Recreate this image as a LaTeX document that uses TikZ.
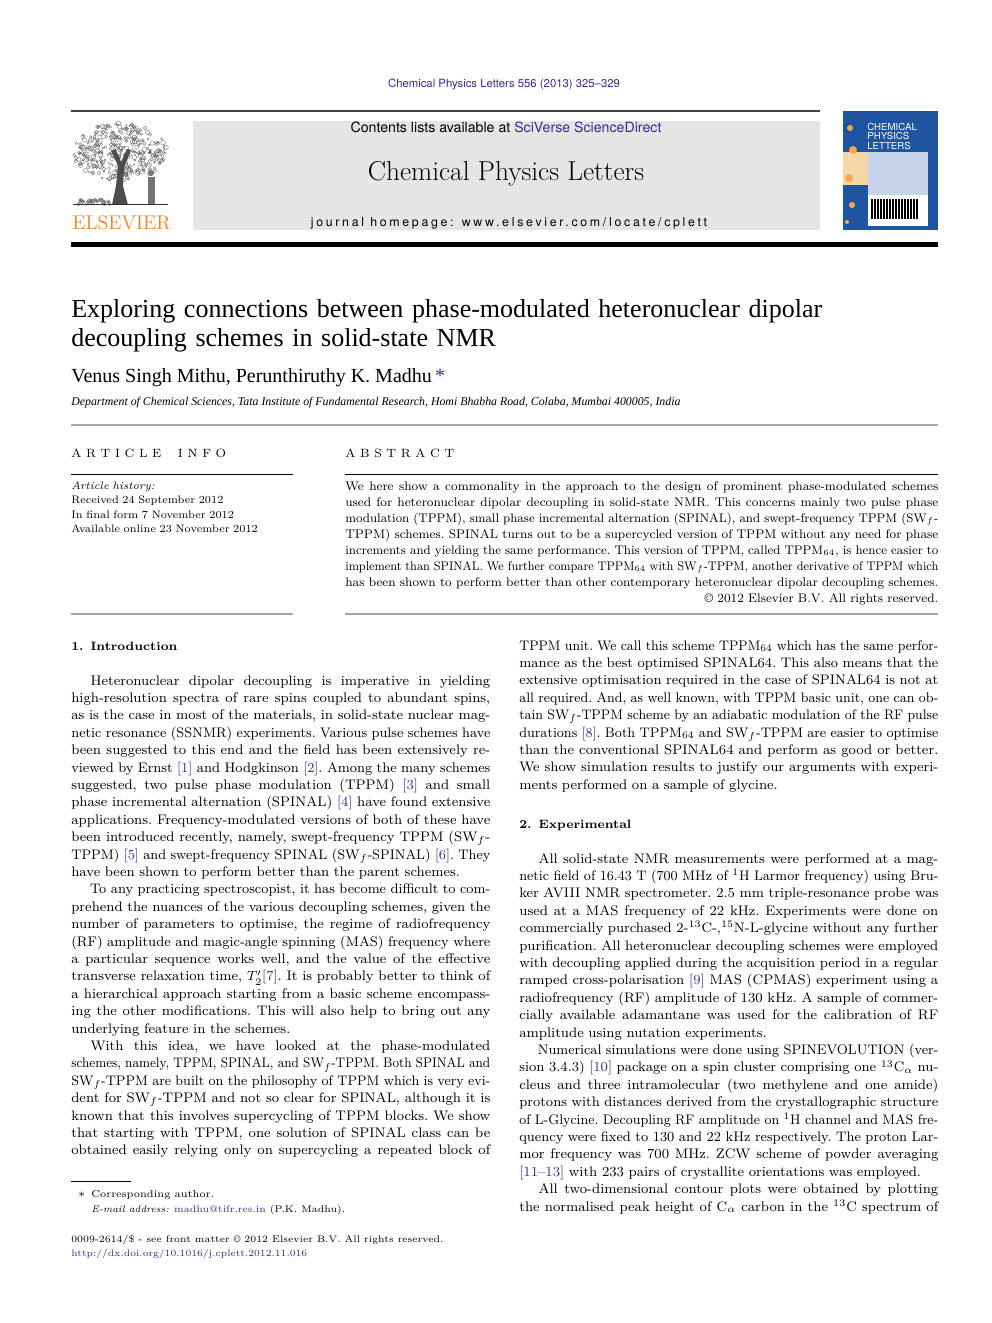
\documentclass[tikz,border=0pt]{standalone}
\usepackage{fontspec}
\usepackage{graphicx}
\usetikzlibrary{positioning}
\newfontfamily\hvfont{TeX Gyre Heros}
\newfontfamily\hvspaced[LetterSpace=22]{TeX Gyre Heros}
\newfontfamily\tmfont{Liberation Serif}
\definecolor{refblue}{RGB}{46,49,146}
\definecolor{elsorange}{RGB}{245,130,32}
\definecolor{coverblue}{RGB}{30,84,160}
\definecolor{coverpanel}{RGB}{198,212,234}
\definecolor{coverpeach}{RGB}{246,216,168}
\definecolor{boxgray}{RGB}{229,229,229}
% one justified line of a column
\newcommand\jl[1]{\leavevmode\sbox0{#1}\ifdim\wd0>\hsize\resizebox{\hsize}{\height}{#1}\else\hbox to\hsize{\spaceskip=0.3333em plus 2em minus 0.08em\relax#1}\fi}
\newcommand\rf[1]{\textcolor{refblue}{[#1]}}
\newcommand\SWf{SW$_f$}
\newcommand\ind{\hspace*{11.5pt}}
\tikzset{
	bodytext/.style={anchor=base west, inner sep=0pt, text width=251.4pt, align=left,
		font=\fontsize{8.3}{10.44}\selectfont\frenchspacing},
	abstext/.style={anchor=base west, inner sep=0pt, text width=355.8pt, align=left,
		font=\fontsize{7.5}{9.6}\selectfont\frenchspacing},
	secthead/.style={anchor=base west, inner sep=0pt, font=\fontsize{7.3}{10}\selectfont\bfseries},
	plaintext/.style={anchor=base west, inner sep=0pt, align=left},
	rulegray/.style={draw=black!35, line width=0.8pt},
	leaf/.style={draw=black!60, line width=0.2pt},
}
\begin{document}
\begin{tikzpicture}[x=0.6pt, y=-0.6pt]
	\useasboundingbox (0,0) rectangle (992,1323);
	\fill[white] (0,0) rectangle (992,1323);
	% journal header
	\node[anchor=base, inner sep=0pt, text=refblue, font=\hvfont\fontsize{6.8}{8}\selectfont] (citation) at (504,88) {Chemical Physics Letters 556 (2013) 325\textendash 329};
	\draw[line width=0.7pt, black!75] (71,111) -- (820,111);
	\fill[boxgray] (193,121) rectangle (820,230);
	\node[anchor=base, inner sep=0pt, font=\hvfont\fontsize{8.5}{9}\selectfont] (contents) at (506,133) {Contents lists available at \textcolor{refblue}{SciVerse ScienceDirect}};
	\node[anchor=base, inner sep=0pt, font=\fontsize{16.4}{17}\selectfont] (jtitle) at (506,181) {Chemical Physics Letters};
	\node[anchor=base, inner sep=0pt, font=\hvspaced\fontsize{7.4}{9}\selectfont] (homepage) at (509,226) {journal homepage: www.elsevier.com/locate/cplett};
	\fill (71,241.5) rectangle (938,246.5);
	% publisher logo
	\pgfmathsetseed{11}
	\foreach \k in {1,...,360}{
		\pgfmathsetmacro\radi{sqrt(rnd)}
		\pgfmathsetmacro\angl{360*rnd}
		\draw[leaf] ({120+47*\radi*cos(\angl)},{152+29*\radi*sin(\angl)}) circle[radius={0.8+1.6*rnd}];
	}
	\foreach \k in {1,...,40}{
		\draw[leaf] ({78+32*rnd},{199+5*rnd}) circle[radius={0.8+1.2*rnd}];
	}
	\fill[black!70] (112,205) -- (116,186) -- (118,166) -- (111,150) -- (116,150) -- (121,162) -- (127,149) -- (131,150) -- (124,168) -- (123,186) -- (128,205) -- cycle;
	\fill[black!55] (151,173) circle[radius=3];
	\fill[black!55] (148,177) rectangle (155,204);
	\draw[black!80, line width=0.6pt] (73,205) -- (168,205);
	\node[anchor=base west, inner sep=0pt, text=elsorange, font=\fontsize{11.9}{12}\selectfont] (elsevier) at (72,229) {ELSEVIER};
	% cover
	\fill[coverblue] (843,111) rectangle (938,230);
	\fill[coverpeach] (843,152) rectangle (868,185);
	\fill[coverpanel] (868,152) rectangle (928,195);
	\fill[white] (868,195) rectangle (928,226);
	\foreach \bx in {872,875,...,917}{
		\draw[line width=0.75pt] (\bx,199) -- (\bx,219);
	}
	\foreach \cx/\cy/\cr in {850/128/3, 853/150/4, 849/178/4, 852/205/3, 847/222/2}{
		\fill[orange!70] (\cx,\cy) circle[radius=\cr];
	}
	\node[anchor=north west, inner sep=0pt, text=white, align=left, font=\hvfont\fontsize{5.8}{5.9}\selectfont] (covertitle) at (867,122.5) {CHEMICAL\\PHYSICS\\LETTERS};
	% title block
	\node[plaintext, text width=480pt, font=\tmfont\fontsize{15.6}{17.4}\selectfont] (title) at (71,317) {Exploring connections between phase-modulated heteronuclear dipolar\\decoupling schemes in solid-state NMR};
	\node[plaintext, font=\tmfont\fontsize{12}{12}\selectfont] (authors) at (71,382) {Venus Singh Mithu, Perunthiruthy K. Madhu\,\textcolor{refblue}{*}};
	\node[plaintext, font=\tmfont\fontsize{7.1}{9}\selectfont\itshape] (affil) at (71,405) {Department of Chemical Sciences, Tata Institute of Fundamental Research, Homi Bhabha Road, Colaba, Mumbai 400005, India};
	\draw[rulegray] (71,425) -- (938,425);
	% article info
	\node[plaintext, font=\fontsize{7.2}{9}\selectfont] (infohead) at (71,457) {A R T I C L E \quad I N F O};
	\draw[line width=0.5pt] (71,474) -- (293,474);
	\node[plaintext, text width=133pt, font=\fontsize{6.5}{8.7}\selectfont] (history) at (71,489) {\textit{Article history:}\\Received 24 September 2012\\In final form 7 November 2012\\Available online 23 November 2012};
	\draw[rulegray, line width=1.2pt] (71,614) -- (293,614);
	% abstract
	\node[plaintext, font=\fontsize{7.2}{9}\selectfont] (abshead) at (345,457) {A B S T R A C T};
	\draw[line width=0.5pt] (345,474) -- (938,474);
	\node[abstext] (abstract) at (345,490) {
		\jl{We here show a commonality in the approach to the design of prominent phase-modulated schemes}\\
		\jl{used for heteronuclear dipolar decoupling in solid-state NMR. This concerns mainly two pulse phase}\\
		\jl{modulation (TPPM), small phase incremental alternation (SPINAL), and swept-frequency TPPM (\SWf-}\\
		\jl{TPPM) schemes. SPINAL turns out to be a supercycled version of TPPM without any need for phase}\\
		\jl{increments and yielding the same performance. This version of TPPM, called TPPM$_{64}$, is hence easier to}\\
		\jl{implement than SPINAL. We further compare TPPM$_{64}$ with \SWf-TPPM, another derivative of TPPM which}\\
		\jl{has been shown to perform better than other contemporary heteronuclear dipolar decoupling schemes.}\\
		\makebox[\hsize][r]{\copyright{} 2012 Elsevier B.V. All rights reserved.}};
	\draw[rulegray, line width=1.2pt] (345,614) -- (938,614);
	% left column
	\node[secthead] (introhead) at (71,650) {1. Introduction};
	\node[bodytext] (introbody) at (71,685) {
		\jl{\ind Heteronuclear dipolar decoupling is imperative in yielding}\\
		\jl{high-resolution spectra of rare spins coupled to abundant spins,}\\
		\jl{as is the case in most of the materials, in solid-state nuclear mag-}\\
		\jl{netic resonance (SSNMR) experiments. Various pulse schemes have}\\
		\jl{been suggested to this end and the field has been extensively re-}\\
		\jl{viewed by Ernst \rf{1} and Hodgkinson \rf{2}. Among the many schemes}\\
		\jl{suggested, two pulse phase modulation (TPPM) \rf{3} and small}\\
		\jl{phase incremental alternation (SPINAL) \rf{4} have found extensive}\\
		\jl{applications. Frequency-modulated versions of both of these have}\\
		\jl{been introduced recently, namely, swept-frequency TPPM (\SWf-}\\
		\jl{TPPM) \rf{5} and swept-frequency SPINAL (\SWf-SPINAL) \rf{6}. They}\\
		have been shown to perform better than the parent schemes.\\
		\jl{\ind To any practicing spectroscopist, it has become difficult to com-}\\
		\jl{prehend the nuances of the various decoupling schemes, given the}\\
		\jl{number of parameters to optimise, the regime of radiofrequency}\\
		\jl{(RF) amplitude and magic-angle spinning (MAS) frequency where}\\
		\jl{a particular sequence works well, and the value of the effective}\\
		\jl{transverse relaxation time, $T_2'$\rf{7}. It is probably better to think of}\\
		\jl{a hierarchical approach starting from a basic scheme encompass-}\\
		\jl{ing the other modifications. This will also help to bring out any}\\
		underlying feature in the schemes.\\
		\jl{\ind With this idea, we have looked at the phase-modulated}\\
		\jl{schemes, namely, TPPM, SPINAL, and \SWf-TPPM. Both SPINAL and}\\
		\jl{\SWf-TPPM are built on the philosophy of TPPM which is very evi-}\\
		\jl{dent for \SWf-TPPM and not so clear for SPINAL, although it is}\\
		\jl{known that this involves supercycling of TPPM blocks. We show}\\
		\jl{that starting with TPPM, one solution of SPINAL class can be}\\
		\jl{obtained easily relying only on supercycling a repeated block of}};
	% right column
	\node[bodytext] (rightbody) at (519,650) {
		\jl{TPPM unit. We call this scheme TPPM$_{64}$ which has the same perfor-}\\
		\jl{mance as the best optimised SPINAL64. This also means that the}\\
		\jl{extensive optimisation required in the case of SPINAL64 is not at}\\
		\jl{all required. And, as well known, with TPPM basic unit, one can ob-}\\
		\jl{tain \SWf-TPPM scheme by an adiabatic modulation of the RF pulse}\\
		\jl{durations \rf{8}. Both TPPM$_{64}$ and \SWf-TPPM are easier to optimise}\\
		\jl{than the conventional SPINAL64 and perform as good or better.}\\
		\jl{We show simulation results to justify our arguments with experi-}\\
		ments performed on a sample of glycine.};
	\node[secthead] (exphead) at (519,828) {2. Experimental};
	\node[bodytext] (expbody) at (519,863) {
		\jl{\ind All solid-state NMR measurements were performed at a mag-}\\
		\jl{netic field of 16.43 T (700 MHz of $^1$H Larmor frequency) using Bru-}\\
		\jl{ker AVIII NMR spectrometer. 2.5 mm triple-resonance probe was}\\
		\jl{used at a MAS frequency of 22 kHz. Experiments were done on}\\
		\jl{commercially purchased 2-$^{13}$C-,$^{15}$N-L-glycine without any further}\\
		\jl{purification. All heteronuclear decoupling schemes were employed}\\
		\jl{with decoupling applied during the acquisition period in a regular}\\
		\jl{ramped cross-polarisation \rf{9} MAS (CPMAS) experiment using a}\\
		\jl{radiofrequency (RF) amplitude of 130 kHz. A sample of commer-}\\
		\jl{cially available adamantane was used for the calibration of RF}\\
		amplitude using nutation experiments.\\
		\jl{\ind Numerical simulations were done using SPINEVOLUTION (ver-}\\
		\jl{sion 3.4.3) \rf{10} package on a spin cluster comprising one $^{13}$C$_\alpha$ nu-}\\
		\jl{cleus and three intramolecular (two methylene and one amide)}\\
		\jl{protons with distances derived from the crystallographic structure}\\
		\jl{of L-Glycine. Decoupling RF amplitude on $^1$H channel and MAS fre-}\\
		\jl{quency were fixed to 130 and 22 kHz respectively. The proton Lar-}\\
		\jl{mor frequency was 700 MHz. ZCW scheme of powder averaging}\\
		\rf{11--13} with 233 pairs of crystallite orientations was employed.\\
		\jl{\ind All two-dimensional contour plots were obtained by plotting}\\
		\jl{the normalised peak height of C$_\alpha$ carbon in the $^{13}$C spectrum of}};
	% footnotes
	\draw[line width=0.4pt] (71,1181) -- (131,1181);
	\node[plaintext, font=\fontsize{6.8}{9}\selectfont] (star) at (78,1197) {$\ast$};
	\node[plaintext, font=\fontsize{6.1}{9}\selectfont] (corresp) at (91,1197) {Corresponding author.};
	\node[plaintext, font=\fontsize{5.8}{9}\selectfont] (email) at (91,1212) {\textit{E-mail address:} \textcolor{refblue}{madhu@tifr.res.in} (P.K. Madhu).};
	\node[plaintext, font=\fontsize{5.8}{9}\selectfont] (frontmatter) at (71,1242) {0009-2614/\$ - see front matter \copyright{} 2012 Elsevier B.V. All rights reserved.};
	\node[plaintext, text=refblue, font=\fontsize{5.7}{9}\selectfont] (doi) at (71,1256) {http://dx.doi.org/10.1016/j.cplett.2012.11.016};
\end{tikzpicture}
\end{document}
